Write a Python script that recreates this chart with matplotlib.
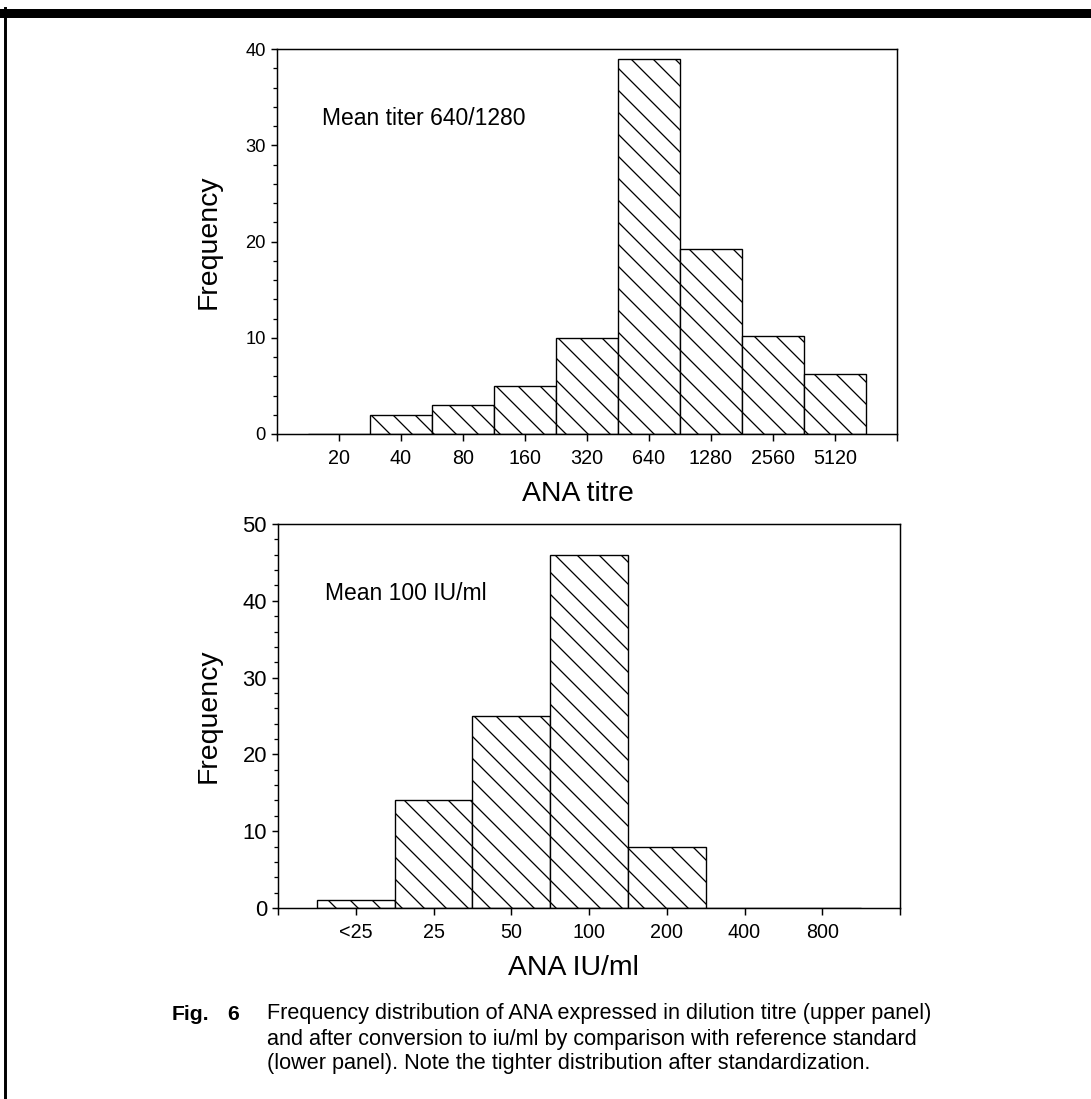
import numpy as np
import matplotlib.pyplot as plt
from matplotlib.lines import Line2D
from matplotlib.ticker import MultipleLocator

plt.rcParams['font.family'] = ['Liberation Sans', 'DejaVu Sans']
plt.rcParams['hatch.linewidth'] = 0.7

# upper panel - dilution titre
titre_labels = ['20', '40', '80', '160', '320', '640', '1280', '2560', '5120']
titre_freq = [0, 2, 3, 5, 10, 39, 19.2, 10.2, 6.2]

# lower panel - IU/ml after standardisation
iu_labels = ['<25', '25', '50', '100', '200', '400', '800']
iu_freq = [1, 14, 25, 46, 8, 0, 0]

caption = ['Frequency distribution of ANA expressed in dilution titre (upper panel)',
           'and after conversion to iu/ml by comparison with reference standard',
           '(lower panel). Note the tighter distribution after standardization.']

W, H, DPI = 1091, 1099, 132
fig = plt.figure(figsize=(W / DPI, H / DPI), dpi=DPI)

def px_axes(left, right, top, bottom):
    return fig.add_axes([left / W, 1 - bottom / H, (right - left) / W, (bottom - top) / H])

ax1 = px_axes(277, 897, 49, 434)
ax2 = px_axes(278, 900, 524, 908)

def hist_panel(ax, labels, freq, ymax, xlabel, xlab_x, note, note_xy, ylab_size, xlab_size):
    n = len(labels)
    ax.bar(np.arange(n), freq, width=1.0, facecolor='white', edgecolor='black',
           linewidth=0.75, hatch='\\\\')
    ax.set_xlim(-1, n)
    ax.set_ylim(0, ymax)
    ax.set_xticks(np.arange(-1, n + 1))
    ax.set_xticklabels([''] + labels + [''])
    ax.set_yticks(np.arange(0, ymax + 1, 10))
    ax.yaxis.set_minor_locator(MultipleLocator(2))
    ax.tick_params(axis='x', length=4, width=0.8, pad=4, labelsize=xlab_size)
    ax.tick_params(axis='y', which='major', length=3.5, width=0.8, pad=2.5, labelsize=ylab_size)
    ax.tick_params(axis='y', which='minor', length=2, width=0.7)
    for s in ax.spines.values():
        s.set_linewidth(0.8)
    ax.set_ylabel('Frequency', fontsize=15.5)
    ax.yaxis.set_label_coords(-0.09, 0.5)
    ax.set_xlabel(xlabel, fontsize=15.5)
    ax.xaxis.label.set_verticalalignment('center')
    ax.xaxis.set_label_coords(xlab_x, -0.155)
    ax.text(note_xy[0], note_xy[1], note, fontsize=12.5, ha='left', va='center')

hist_panel(ax1, titre_labels, titre_freq, 40, 'ANA titre', 0.485, 'Mean titer 640/1280',
           (-0.27, 32.8), 10, 10.8)
hist_panel(ax2, iu_labels, iu_freq, 50, 'ANA IU/ml', 0.475, 'Mean 100 IU/ml',
           (-0.40, 40.9), 12, 10.8)

# caption
cap_y = [1014, 1039, 1064]
fig.text(172 / W, 1 - cap_y[0] / H, 'Fig.', fontsize=11.5, fontweight='bold', va='center')
fig.text(227 / W, 1 - cap_y[0] / H, '6', fontsize=11.5, fontweight='bold', va='center')
for y, line in zip(cap_y, caption):
    fig.text(267 / W, 1 - y / H, line, fontsize=11.8, va='center')

# page border (top rule and left edge)
fig.add_artist(Line2D([0, 1], [1 - 12.5 / H] * 2, transform=fig.transFigure,
                      color='black', linewidth=4.9))
fig.add_artist(Line2D([4.5 / W] * 2, [0, 1 - 8 / H], transform=fig.transFigure,
                      color='black', linewidth=1.6))

fig.savefig('out.png', dpi=DPI)
